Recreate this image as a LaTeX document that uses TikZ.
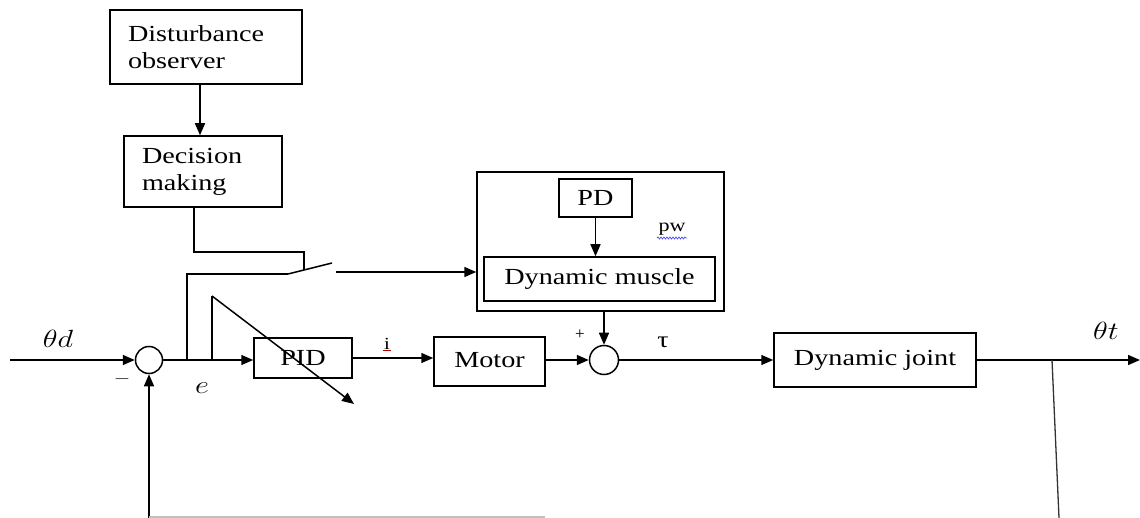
\documentclass[tikz,border=0pt]{standalone}
\usepackage{fontspec}
\setmainfont{Liberation Serif}
\usepackage{graphicx}
\usetikzlibrary{arrows.meta,decorations.pathmorphing}
\newcommand{\sx}[1]{\scalebox{1.226}[1]{#1}}
\begin{document}
\begin{tikzpicture}[x=1pt,y=-1pt,line width=1.5pt,
  blk/.style={draw, rectangle, inner sep=0pt, font=\fontsize{23}{27}\selectfont},
  sumc/.style={draw, circle, minimum size=27pt, inner sep=0pt},
  arr/.style={-{Triangle[length=12pt,width=10pt]}},
  lbl/.style={inner sep=0pt, font=\fontsize{23}{27}\selectfont},
  small/.style={inner sep=0pt, font=\fontsize{17}{17}\selectfont}]
\useasboundingbox (0,0) rectangle (1140,518);
% boxes
\node[blk, minimum width=192pt, minimum height=74pt, align=left, text width=156pt, inner xsep=18pt] (dist) at (206,47) {\sx{Disturbance}\\\sx{observer}};
\node[blk, minimum width=158pt, minimum height=71pt, align=left, text width=122pt, inner xsep=18pt] (dec) at (203,171.5) {\sx{Decision}\\\sx{making}};
\node[blk, minimum width=247pt, minimum height=139pt] (outer) at (600.5,241.5) {};
\node[blk, minimum width=73pt, minimum height=38pt] (pd) at (595.5,198) {\sx{PD}};
\node[blk, minimum width=231pt, minimum height=44pt] (dm) at (599.5,279) {\sx{Dynamic muscle}};
\node[blk, minimum width=98pt, minimum height=40pt] (pid) at (303,358) {\sx{PID}\hspace{6pt}};
\node[blk, minimum width=111pt, minimum height=49pt] (motor) at (489.5,361.5) {\raisebox{4pt}{\sx{Motor}}};
\node[blk, minimum width=202pt, minimum height=54pt] (dj) at (875,360) {\raisebox{5pt}{\sx{Dynamic joint}}};
\node[sumc] (sum1) at (149,360) {};
\node[sumc, minimum size=29pt] (sum2) at (604,360) {};
% coordinates
\coordinate (in) at (10,360);
\coordinate (j1) at (187,360);
\coordinate (j2) at (212,360);
\coordinate (sw1) at (288,274);
\coordinate (sw2) at (332,263);
\coordinate (sw3) at (336,272);
\coordinate (d1) at (194,252);
\coordinate (d2) at (304,252);
\coordinate (d3) at (304,270);
\coordinate (j2top) at (212,296);
\coordinate (tip) at (354,404);
\coordinate (out) at (1140,360);
\coordinate (br) at (1052,360);
\coordinate (brb) at (1059,518);
\coordinate (fb) at (149,518);
\coordinate (fbr) at (545,517);
% connectors
\draw[arr] (dist.south -| 200,0) -- (dec.north -| 200,0);
\draw (dec.south -| d1) -- (d1) -- (d2) -- (d3);
\draw (j1) |- (sw1);
\draw (sw1) -- (sw2);
\draw[arr] (sw3) -- (sw3 -| outer.west);
\draw (j2) -- (j2top);
\draw[arr] (j2top) -- (tip);
\draw[arr] (in) -- (sum1.west);
\draw[arr] (sum1.east) -- (pid.west |- sum1.east);
\draw[arr] (pid.east) -- (motor.west |- pid.east);
\draw[arr] (motor.east |- sum2.west) -- (sum2.west);
\draw[arr] (pd.south) -- (pd.south |- dm.north);
\draw[arr] (sum2.north |- outer.south) -- (sum2.north);
\draw[arr] (sum2.east) -- (dj.west);
\draw[arr] (dj.east) -- (out);
\draw[black!80, line width=1.3pt] (br) -- (brb);
\draw[arr] (fb) -- (sum1.south);
\draw[black!25, line width=1.2pt] (fb |- fbr) -- (fbr);
% labels
\node[lbl] (thd) at (58,339) {\sx{$\theta d$}};
\node[small] (minus) at (122,379) {\sx{$-$}};
\node[lbl] (e) at (202,388) {\sx{$e$}};
\node[small] (ilbl) at (387,344) {\sx{i}};
\draw[red!70!black, line width=0.8pt] (383,350) -- (391,350);
\node[small] (plus) at (580,335) {+};
\node[lbl] (tau) at (663,342) {\sx{τ}};
\node[small, font=\fontsize{18}{18}\selectfont] (pw) at (672,229) {\sx{pw}};
\draw[blue!70, line width=0.7pt, decorate, decoration={snake, amplitude=1pt, segment length=3pt}] (657,238) -- (687,238);
\node[lbl] (tht) at (1106,331) {\sx{$\theta t$}};
\end{tikzpicture}
\end{document}
